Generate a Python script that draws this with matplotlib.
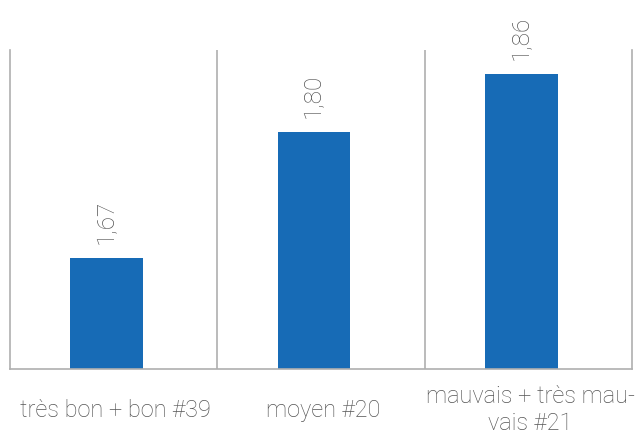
import matplotlib
matplotlib.use("Agg")
import matplotlib.pyplot as plt
import numpy as np

categories = ["très bon + bon #39", "moyen #20", "mauvais + très mau-\nvais #21"]
values = [1.67, 1.80, 1.86]

BAR_COLOR = "#176BB6"
TEXT_COLOR = "#555555"
LINE_COLOR = "#AFAFAF"

plt.rcParams["font.family"] = ["Roboto", "DejaVu Sans"]
plt.rcParams["font.weight"] = "light"

fig = plt.figure(figsize=(6.39, 4.31), dpi=100)
ax = fig.add_axes([0.0156, 0.1415, 0.9734, 0.7402])

x = np.arange(len(categories))
# bars sit slightly left of the category centre
bars = ax.bar(x - 0.034, values, width=0.35, color=BAR_COLOR, zorder=2)

ax.bar_label(bars, labels=[f"{v:.2f}".replace(".", ",") for v in values],
             padding=11, rotation=90, fontsize=17.5, color=TEXT_COLOR)

ax.set_xlim(-0.5, len(categories) - 0.5)
ax.set_ylim(1.556, 1.885)

# separators between categories
for b in np.arange(0.5, len(categories) - 0.5):
    ax.axvline(b, color=LINE_COLOR, lw=1.2, zorder=1)

ax.spines["top"].set_visible(False)
for side in ("left", "right", "bottom"):
    ax.spines[side].set_color(LINE_COLOR)
    ax.spines[side].set_linewidth(1.2)

ax.set_yticks([])
ax.set_xticks(x + 0.01, categories)
ax.tick_params(axis="x", length=0, pad=29, labelsize=17, labelcolor=TEXT_COLOR)
for lab in ax.get_xticklabels():
    lab.set_verticalalignment("center")
    lab.set_linespacing(1.22)

fig.savefig("out.png", dpi=100)
